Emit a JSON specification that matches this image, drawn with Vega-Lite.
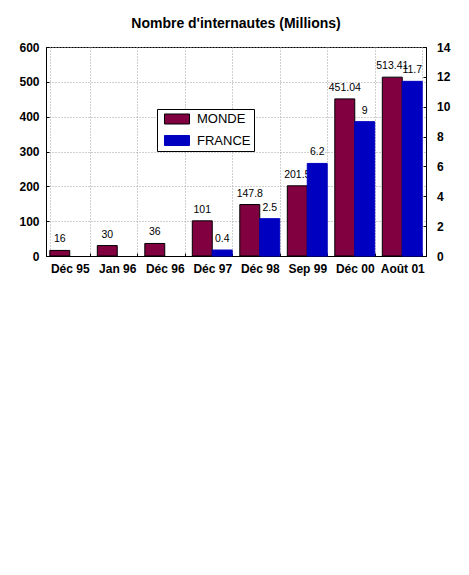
{
  "$schema": "https://vega.github.io/schema/vega-lite/v6.json",
  "autosize": "none",
  "width": 380,
  "height": 209,
  "padding": {"left": 46, "top": 47, "right": 43, "bottom": 319},
  "background": "white",
  "title": {
    "text": "Nombre d'internautes (Millions)",
    "font": "Liberation Sans",
    "fontSize": 14,
    "fontWeight": "bold",
    "color": "black",
    "anchor": "middle",
    "offset": 10
  },
  "config": {
    "view": {"stroke": "black", "strokeWidth": 1},
    "axis": {
      "labelFont": "Liberation Sans",
      "labelFontSize": 12,
      "labelFontWeight": "bold",
      "labelColor": "black",
      "domainColor": "black",
      "tickColor": "black",
      "gridColor": "#a0a0a0",
      "gridDash": [1, 2],
      "gridWidth": 1,
      "title": null
    }
  },
  "data": {
    "values": [
      {"date": "Déc 95", "serie": "MONDE", "value": 16, "label": "16"},
      {"date": "Jan 96", "serie": "MONDE", "value": 30, "label": "30"},
      {"date": "Déc 96", "serie": "MONDE", "value": 36, "label": "36"},
      {"date": "Déc 97", "serie": "MONDE", "value": 101, "label": "101"},
      {"date": "Déc 98", "serie": "MONDE", "value": 147.8, "label": "147.8"},
      {"date": "Sep 99", "serie": "MONDE", "value": 201.5, "label": "201.5"},
      {"date": "Déc 00", "serie": "MONDE", "value": 451.04, "label": "451.04"},
      {"date": "Août 01", "serie": "MONDE", "value": 513.41, "label": "513.41"},
      {"date": "Déc 97", "serie": "FRANCE", "value": 0.4, "label": "0.4"},
      {"date": "Déc 98", "serie": "FRANCE", "value": 2.5, "label": "2.5"},
      {"date": "Sep 99", "serie": "FRANCE", "value": 6.2, "label": "6.2"},
      {"date": "Déc 00", "serie": "FRANCE", "value": 9, "label": "9"},
      {"date": "Août 01", "serie": "FRANCE", "value": 11.7, "label": "11.7"}
    ]
  },
  "encoding": {
    "x": {
      "field": "date",
      "type": "nominal",
      "sort": ["Déc 95", "Jan 96", "Déc 96", "Déc 97", "Déc 98", "Sep 99", "Déc 00", "Août 01"],
      "scale": {"paddingInner": 0.16, "paddingOuter": 0.08},
      "axis": {
        "labelAngle": 0,
        "ticks": true,
        "tickSize": -3,
        "tickBand": "extent",
        "grid": true,
        "labelPadding": 10
      }
    },
    "xOffset": {
      "field": "serie",
      "type": "nominal",
      "sort": ["MONDE", "FRANCE"],
      "scale": {"domain": ["MONDE", "FRANCE"]}
    }
  },
  "layer": [
    {
      "transform": [{"filter": "datum.serie === 'MONDE'"}],
      "encoding": {
        "y": {
          "field": "value",
          "type": "quantitative",
          "scale": {"domain": [0, 600], "nice": false},
          "axis": {
            "orient": "left",
            "values": [0, 100, 200, 300, 400, 500, 600],
            "grid": true,
            "tickSize": -3,
            "labelPadding": 10
          }
        }
      },
      "layer": [
        {
          "mark": {"type": "bar", "strokeWidth": 1},
          "encoding": {
            "color": {
              "field": "serie",
              "type": "nominal",
              "scale": {"domain": ["MONDE", "FRANCE"], "range": ["#800040", "#0000C0"]},
              "legend": {
                "title": null,
                "orient": "none",
                "legendX": 111,
                "legendY": 62,
                "strokeColor": "black",
                "fillColor": "white",
                "padding": 3,
                "rowPadding": 5.5,
                "symbolType": "M-0.385,-0.77H3.46V0.77H-0.385Z",
                "symbolSize": 169,
                "symbolStrokeWidth": 1,
                "labelFont": "Liberation Sans",
                "labelFontSize": 13,
                "labelColor": "black",
                "labelOffset": 23
              }
            },
            "stroke": {
              "field": "serie",
              "type": "nominal",
              "scale": {"domain": ["MONDE", "FRANCE"], "range": ["#000000", "#0000C0"]},
              "legend": null
            }
          }
        },
        {
          "mark": {"type": "text", "font": "Liberation Sans", "fontSize": 10.5, "fill": "#000000", "baseline": "alphabetic", "dy": -8},
          "encoding": {"text": {"field": "label"}}
        }
      ]
    },
    {
      "transform": [{"filter": "datum.serie === 'FRANCE'"}],
      "encoding": {
        "y": {
          "field": "value",
          "type": "quantitative",
          "scale": {"domain": [0, 14], "nice": false},
          "axis": {
            "orient": "right",
            "values": [0, 2, 4, 6, 8, 10, 12, 14],
            "grid": false,
            "tickSize": -3,
            "labelPadding": 13.5
          }
        }
      },
      "layer": [
        {
          "mark": {"type": "bar", "strokeWidth": 1},
          "encoding": {
            "color": {"field": "serie", "type": "nominal"},
            "stroke": {"field": "serie", "type": "nominal", "legend": null}
          }
        },
        {
          "mark": {"type": "text", "font": "Liberation Sans", "fontSize": 10.5, "fill": "#000000", "baseline": "alphabetic", "dy": -8},
          "encoding": {"text": {"field": "label"}}
        }
      ]
    }
  ],
  "resolve": {"scale": {"y": "independent"}}
}
